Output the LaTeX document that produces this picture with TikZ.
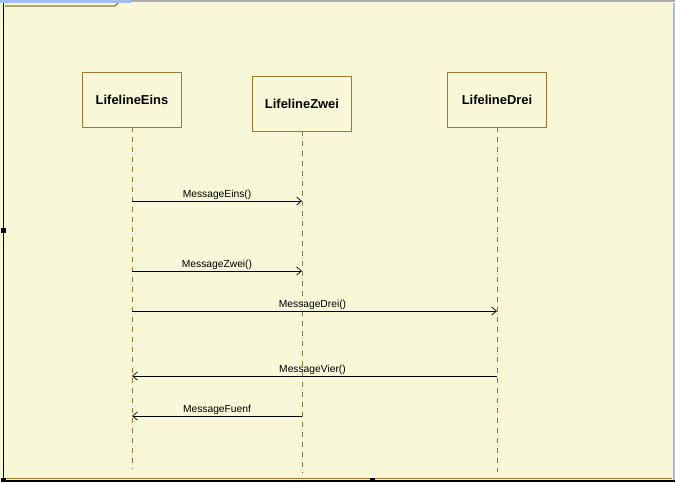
\documentclass[tikz,border=0pt]{standalone}
\usepackage{fontspec}
\setmainfont{Liberation Sans}
\usetikzlibrary{arrows.meta}
\definecolor{bgcream}{RGB}{248,248,216}
\definecolor{lifegold}{RGB}{160,120,48}
\definecolor{barblue}{RGB}{160,190,240}
\definecolor{bargrey}{RGB}{172,172,172}
\tikzstyle{lifeline} = [rectangle, minimum width=2.475cm, minimum height=1.375cm, text centered, draw=lifegold, line width=0.6pt, fill=bgcream, font=\fontsize{9.2}{11}\selectfont\bfseries]
\tikzstyle{lifedash} = [draw=lifegold, line width=0.6pt, dash pattern=on 0.125cm off 0.125cm]
\tikzstyle{message} = [line width=0.5pt, -{Straight Barb[length=0.12cm, width=0.2cm]}]
\tikzstyle{msglabel} = [font=\fontsize{7.3}{9}\selectfont, inner sep=1pt, above]

\begin{document}
\begin{tikzpicture}[x=0.025cm, y=-0.025cm]
						\useasboundingbox (0,0) rectangle (675,482);
						\fill [bgcream] (0,0) rectangle (675,482);
						% window edges
						\fill [barblue] (0,0) rectangle (131,2.5);
						\fill [bargrey] (131,0) rectangle (675,1.5);
						\fill [barblue] (672.5,2.5) rectangle (675,482);
						\draw [black, line width=1.4pt] (3.5,3) -- (3.5,482);
						\draw [black, line width=1.4pt] (3.5,481) -- (675,481);
						\draw [lifegold, line width=0.6pt] (5,478.8) -- (672,478.8);
						\draw [lifegold, line width=0.9pt] (5,6) -- (115,6) -- (118,3);
						\fill [black] (1,228) rectangle (6,233);
						\fill [black] (1,478) rectangle (6,482);
						\fill [black] (370,478) rectangle (375,482);
						% lifelines
						\node (eins) [lifeline] at (132,99.5) {LifelineEins};
						\node (zwei) [lifeline] at (302,103.5) {LifelineZwei};
						\node (drei) [lifeline] at (497,99.5) {LifelineDrei};
						\coordinate (einsend) at (132,469);
						\coordinate (zweiend) at (302,472);
						\coordinate (dreiend) at (497,472);
						\draw [lifedash] (eins.south) -- (einsend);
						\draw [lifedash] (zwei.south) -- (zweiend);
						\draw [lifedash] (drei.south) -- (dreiend);
						% messages
						\coordinate (eins1) at (132,201);
						\coordinate (zwei1) at (302,201);
						\coordinate (eins2) at (132,271);
						\coordinate (zwei2) at (302,271);
						\coordinate (eins3) at (132,311);
						\coordinate (drei3) at (497,311);
						\coordinate (drei4) at (497,376);
						\coordinate (eins4) at (132,376);
						\coordinate (zwei5) at (302,416);
						\coordinate (eins5) at (132,416);
						\draw [message] (eins1) -- node[msglabel] {MessageEins()} (zwei1);
						\draw [message] (eins2) -- node[msglabel] {MessageZwei()} (zwei2);
						\draw [message] (eins3) -- node[msglabel, xshift=-0.05cm] {MessageDrei()} (drei3);
						\draw [message] (drei4) -- node[msglabel, xshift=-0.05cm] {MessageVier()} (eins4);
						\draw [message] (zwei5) -- node[msglabel] {MessageFuenf} (eins5);
					\end{tikzpicture}
\end{document}
